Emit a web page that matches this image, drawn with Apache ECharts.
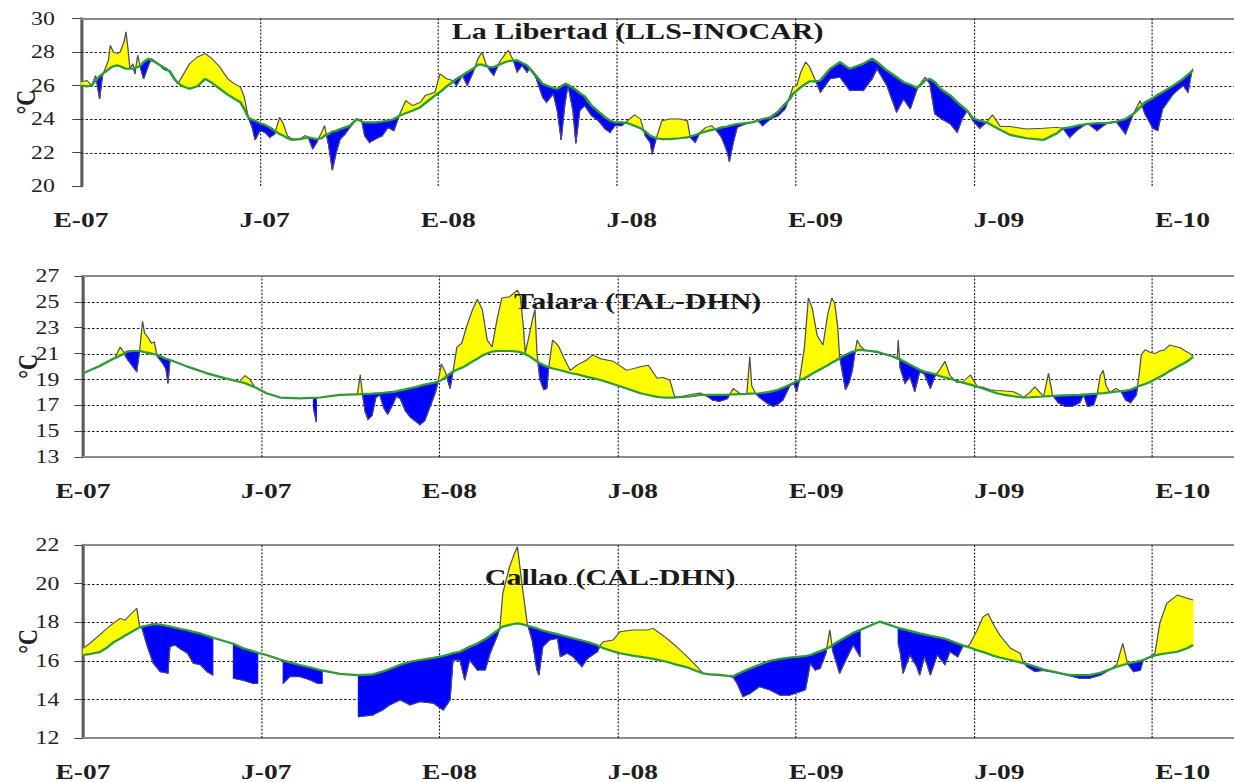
<!DOCTYPE html>
<html>
<head>
<meta charset="utf-8">
<script src="https://cdn.jsdelivr.net/npm/echarts@6/dist/echarts.min.js"></script>
<style>
  html, body { margin: 0; padding: 0; background: #ffffff; overflow: hidden; }
  /* the figure is laid out narrow and widened horizontally, like the printed original */
  #chart { width: 987px; height: 782px; transform: scaleX(1.25026); transform-origin: 0 0; }
</style>
</head>
<body>
<div id="chart"></div>
<script>
// x values are days counted from 1 January 2007
const xTickLabels = ['E-07', 'J-07', 'E-08', 'J-08', 'E-09', 'J-09', 'E-10'];
const DAY_MAX = 1179;
const HALF_YEAR = 182.5;

// ---- La Libertad (LLS-INOCAR): daily SST and its reference curve (°C)
const llDay = [
  0,6,11,15,19,22,28,30,33,37, 40,44,46,48,50,53,55,58,61,64,
  69,72,77,84,87,91,96,99,104,111, 119,127,134,142,150,157,163,167,171,175,
  178,183,188,193,198,203,207,211,216,224, 229,232,237,241,246,249,253,257,261,265,
  270,275,282,287,290,295,301,308,314,320, 326,332,339,347,352,362,367,374,380,384,
  390,395,401,406,410,414,418,422,428,434, 437,442,446,451,456,459,465,472,476,483,
  487,491,495,498,503,506,510,515,522,529, 536,541,546,553,559,566,572,577,582,584,
  588,594,602,612,620,623,628,633,639,645, 650,655,661,663,667,671,679,686,692,697,
  705,713,720,725,728,732,736,741,745,751, 756,766,776,786,800,809,814,824,834,841,
  848,855,863,868,873,880,889,896,901,906, 912,919,926,932,940,950,967,984,998,1004,
  1011,1018,1029,1039,1049,1059,1068,1076,1083,1088, 1096,1101,1106,1117,1127,1132,1136,1137
];
const llSst = [
  26.2,26.3,26.0,26.6,25.2,26.6,27.5,28.4,28.0,27.9, 28.0,28.6,29.2,28.2,27.0,27.3,26.7,27.8,27.0,26.4,
  27.2,27.6,27.4,27.0,26.9,26.9,26.4,26.1,26.6,27.3, 27.7,27.9,27.6,27.1,26.4,26.1,25.9,25.3,24.1,23.5,
  22.75,23.3,23.2,22.9,23.1,24.1,23.7,23.0,22.8,22.8, 23.0,22.95,22.2,22.6,23.2,23.6,22.5,20.95,22.0,22.8,
  23.1,23.5,24.0,23.9,23.0,22.6,22.8,23.0,23.5,23.3, 24.3,25.1,24.8,25.0,25.4,25.6,26.7,26.4,26.3,26.0,
  26.6,26.0,26.8,27.6,28.0,27.3,26.9,26.6,27.4,27.9, 28.1,27.5,26.8,27.2,26.8,27.0,26.5,25.3,25.0,25.5,
  24.5,22.75,25.0,26.0,24.5,22.55,24.5,24.8,24.2,23.9, 23.4,23.2,23.6,23.6,23.9,24.25,24.0,23.0,22.6,21.9,
  22.8,23.9,24.0,24.0,23.9,22.9,22.6,23.2,23.5,23.6, 23.3,22.9,22.0,21.45,22.6,23.5,23.7,23.8,23.9,23.6,
  24.0,24.2,24.6,25.4,25.9,26.0,26.8,27.4,27.1,26.3, 25.6,26.4,26.5,25.7,25.7,26.4,27.0,26.0,24.4,25.2,
  24.6,25.8,26.5,26.1,24.3,24.0,23.7,23.2,24.0,24.5, 23.9,23.45,23.8,24.25,23.55,23.55,23.4,23.45,23.5,23.45,
  22.9,23.3,23.75,23.3,23.75,23.8,23.1,24.3,25.1,24.3, 23.45,23.3,24.6,25.5,26.0,25.6,26.9,27.0
];
const llClim = [
  26.0,25.95,26.0,26.3,26.55,26.7,26.95,27.05,27.15,27.2, 27.15,27.05,27.0,27.0,27.0,27.0,27.05,27.1,27.2,27.4,
  27.6,27.5,27.35,27.1,27.0,26.8,26.35,26.15,25.95,25.8, 25.95,26.4,26.15,25.8,25.45,25.2,25.0,24.6,24.1,23.95,
  23.9,23.75,23.65,23.5,23.3,23.1,23.0,22.85,22.75,22.8, 22.85,22.9,22.85,22.8,22.85,23.0,23.1,23.25,23.3,23.4,
  23.5,23.6,24.0,23.85,23.8,23.8,23.8,23.85,23.9,24.0, 24.2,24.35,24.5,24.7,24.95,25.4,25.6,25.95,26.2,26.4,
  26.6,26.8,27.0,27.25,27.25,27.15,27.1,27.1,27.25,27.4, 27.45,27.5,27.5,27.35,27.2,27.0,26.6,26.1,26.0,25.85,
  25.8,25.95,26.1,26.05,25.85,25.75,25.55,25.35,24.8,24.45, 24.1,23.9,23.8,23.8,23.75,23.6,23.45,23.25,23.0,22.95,
  22.85,22.8,22.8,22.85,22.9,22.95,23.05,23.15,23.25,23.35, 23.4,23.5,23.55,23.6,23.65,23.7,23.75,23.8,23.9,24.0,
  24.1,24.45,24.9,25.2,25.5,25.7,25.9,26.1,26.25,26.25, 26.3,27.0,27.4,27.0,27.3,27.6,27.4,26.9,26.5,26.2,
  26.05,25.85,26.3,26.4,26.2,25.75,25.4,25.0,24.75,24.5, 24.05,23.9,23.8,23.6,23.35,23.05,22.85,22.75,23.15,23.45,
  23.5,23.6,23.7,23.75,23.75,23.85,24.0,24.3,24.7,25.0, 25.25,25.45,25.6,26.0,26.4,26.65,26.85,26.9
];

// ---- Talara (TAL-DHN): null marks days without record
const talDay = [
  0,17,31,33,38,41,45,51,55,58, 61,63,67,70,73,76,79,82,85,87,
  89,90,107,127,145,160,161,166,171,176, 177,188,202,222,234,236,239,243,263,280,
  281,284,286,289,292,296,300,304,308,312, 317,321,325,330,335,340,345,350,355,361,
  364,367,371,376,379,383,388,393,399,404, 409,414,419,424,429,437,445,448,451,453,
  456,461,463,465,468,472,475,477,481,487, 492,499,506,516,522,530,543,557,571,579,
  588,594,601,606,615,624,632,639,645,652, 660,666,673,680,683,685,689,693,700,707,
  712,717,724,728,731,734,739,743,747,752, 758,763,767,770,773,775,778,781,785,788,
  791,793,796,801,806,813,821,829,834,835, 837,842,847,852,857,862,868,873,878,883,
  888,895,901,909,916,922,929,936,944,953, 960,963,970,975,980,984,989,993,999,1006,
  1013,1021,1025,1029,1035,1039,1042,1045,1048,1052, 1058,1063,1068,1073,1079,1082,1084,1088,1093,1098,
  1103,1108,1113,1119,1124,1129,1134,1137
];
const talSst = [
  null,null,null,20.7,21.5,21.2,20.6,20.0,19.6,21.2, 23.5,22.6,22.2,21.8,21.9,20.8,20.5,20.2,19.8,18.7,
  20.4,null,null,null,null,null,18.9,19.3,19.0,18.4, null,null,null,null,null,16.8,15.7,null,null,null,
  17.85,19.35,18.0,16.5,15.9,16.2,17.6,17.8,16.8,16.3, 17.0,17.7,17.5,16.6,16.1,15.8,15.5,15.8,16.8,18.0,
  18.9,20.2,19.6,18.3,19.6,21.5,21.8,23.1,24.4,25.2, 24.4,22.05,21.5,23.6,25.3,25.4,25.9,25.4,23.1,21.05,
  22.05,23.85,24.4,21.0,19.0,18.2,18.3,19.9,22.05,21.6, 20.76,19.7,20.1,20.5,20.9,20.6,20.4,19.7,19.98,20.1,
  19.1,19.15,18.96,17.67,17.7,17.85,17.95,17.7,17.4,17.3, 17.5,18.3,17.9,17.9,20.76,18.5,17.9,17.6,17.2,16.9,
  17.1,17.4,18.5,18.7,18.05,19.0,21.5,25.3,24.5,22.4, 21.66,24.1,25.3,24.9,23.1,20.76,19.5,18.2,18.8,19.7,
  21.2,22.05,21.6,21.25,21.2,21.1,21.0,20.8,20.6,22.05, 19.9,18.7,19.2,18.05,19.6,19.4,18.3,19.3,19.8,20.4,
  19.3,18.8,18.8,19.34,18.45,18.4,18.2,18.15,18.1,18.05, 17.8,17.6,18.0,18.44,18.0,17.7,19.47,17.8,17.2,16.9,
  16.9,17.2,17.8,16.9,17.0,17.9,19.3,19.7,18.5,17.99, 18.3,18.1,17.4,17.2,17.8,19.5,20.9,21.3,21.1,21.0,
  21.2,21.3,21.66,21.55,21.45,21.2,21.0,20.8
];
const talClim = [
  19.47,20.04,20.6,20.65,20.85,20.95,21.15,21.2,21.2,21.2, 21.15,21.1,21.05,21.0,20.95,20.9,20.8,20.7,20.6,20.55,
  20.5,20.48,19.99,19.47,19.1,18.82,18.8,18.7,18.55,18.4, 18.37,17.93,17.6,17.54,17.58,17.58,17.58,17.6,17.8,17.85,
  17.85,17.86,17.87,17.88,17.89,17.9,17.92,17.94,17.97,18.0, 18.03,18.08,18.15,18.23,18.32,18.4,18.5,18.6,18.68,18.77,
  18.83,18.95,19.15,19.45,19.6,19.75,19.9,20.1,20.4,20.6, 20.85,21.0,21.15,21.2,21.2,21.2,21.15,21.1,21.0,20.95,
  20.85,20.6,20.5,20.4,20.25,20.1,20.0,19.95,19.85,19.75, 19.65,19.5,19.4,19.2,19.1,18.96,18.65,18.3,17.93,17.8,
  17.65,17.6,17.6,17.6,17.65,17.7,17.8,17.8,17.8,17.8, 17.82,17.84,17.87,17.89,17.9,17.9,17.91,17.93,18.0,18.1,
  18.2,18.35,18.6,18.75,18.85,18.95,19.1,19.25,19.45,19.65, 19.9,20.1,20.3,20.4,20.55,20.65,20.8,20.9,21.05,21.15,
  21.2,21.25,21.28,21.25,21.2,21.15,20.95,20.8,20.64,20.6, 20.55,20.35,20.15,19.95,19.75,19.6,19.5,19.4,19.25,19.15,
  19.05,18.9,18.75,18.6,18.44,18.3,18.1,17.93,17.8,17.7, 17.62,17.6,17.62,17.64,17.66,17.68,17.71,17.72,17.74,17.76,
  17.78,17.81,17.83,17.85,17.88,17.9,17.92,17.93,17.96,18.0, 18.05,18.1,18.14,18.2,18.4,18.5,18.55,18.65,18.8,19.0,
  19.2,19.4,19.65,19.9,20.1,20.3,20.55,20.76
];

// ---- Callao (CAL-DHN)
const calDay = [
  0,7,17,25,31,38,43,48,55,58, 60,66,72,79,87,89,94,100,107,113,
  120,127,133,134,147,153,154,164,174,179, 180,188,204,205,212,222,233,240,245,246,
  263,281,282,297,307,314,325,335,345,359, 369,376,379,386,391,396,404,412,417,424,
  427,430,437,442,445,450,455,460,465,467, 471,478,486,489,496,502,511,517,527,530,
  533,543,550,563,578,584,591,598,608,619, 629,635,642,652,661,666,670,676,683,693,
  704,714,724,734,740,745,750,755,761,765, 768,775,783,789,796,797,816,834,835,837,
  840,847,854,857,862,868,875,883,888,896, 901,906,909,916,922,927,932,939,950,960,
  963,967,975,983,990,1004,1011,1021,1031,1042, 1052,1059,1065,1070,1076,1083,1086,1093,1098,1103,
  1110,1121,1131,1137
];
const calSst = [
  16.65,16.9,17.34,17.7,17.94,18.2,18.1,18.37,18.72,17.77, 17.75,16.73,15.87,15.44,15.35,16.73,16.82,16.6,16.39,15.87,
  15.8,15.44,15.26,null,null,null,15.09,14.99,14.83,14.83, null,null,null,14.83,15.18,15.18,15.0,14.83,14.83,null,
  null,null,13.1,13.19,13.45,13.71,13.97,13.71,13.88,13.8, 13.45,13.97,16.04,16.04,15.0,16.04,15.52,15.52,16.39,17.25,
  17.68,19.5,20.88,21.57,21.91,19.84,17.94,17.08,15.52,15.26, 16.73,17.08,17.16,16.21,16.39,16.21,15.69,16.13,16.47,16.82,
  16.99,17.08,17.51,17.6,17.6,17.68,17.42,17.16,16.73,16.21, 15.69,15.35,15.3,15.3,15.2,15.15,14.83,14.14,14.3,14.66,
  14.48,14.22,14.22,14.39,14.5,15.87,15.52,15.6,16.4,17.6, 16.5,15.35,16.21,16.82,16.21,null,null,null,16.9,16.47,
  15.35,16.3,15.7,15.26,16.21,15.26,16.3,15.8,16.47,16.2, 16.73,16.73,16.91,17.6,18.28,18.45,17.94,17.34,16.65,16.39,
  15.95,15.7,15.44,15.5,15.45,15.3,15.22,15.09,15.09,15.25, 15.55,15.8,16.91,15.85,15.44,15.5,16.04,16.2,16.39,17.94,
  18.98,19.41,19.24,19.15
];
const calClim = [
  16.3,16.35,16.45,16.7,16.95,17.15,17.3,17.45,17.65,17.73, 17.77,17.83,17.9,17.88,17.8,17.78,17.72,17.65,17.58,17.5,
  17.42,17.3,17.2,17.18,16.99,16.9,16.88,16.65,16.5,16.42, 16.4,16.3,16.03,16.02,15.92,15.78,15.65,15.56,15.5,15.49,
  15.32,15.26,15.26,15.3,15.45,15.58,15.8,15.95,16.04,16.15, 16.25,16.35,16.4,16.47,16.6,16.73,16.9,17.12,17.3,17.55,
  17.68,17.77,17.86,17.92,17.94,17.9,17.82,17.75,17.68,17.64, 17.57,17.47,17.38,17.34,17.25,17.17,17.05,16.97,16.8,16.72,
  16.65,16.49,16.39,16.27,16.15,16.1,16.02,15.95,15.8,15.66, 15.46,15.35,15.3,15.26,15.22,15.2,15.3,15.45,15.6,15.8,
  16.0,16.1,16.17,16.22,16.25,16.3,16.4,16.5,16.62,16.7, 16.82,17.05,17.28,17.45,17.6,17.62,18.03,17.72,17.7,17.68,
  17.64,17.55,17.46,17.42,17.37,17.3,17.23,17.14,17.05,16.9, 16.8,16.73,16.68,16.55,16.45,16.36,16.27,16.17,16.04,15.92,
  15.88,15.83,15.7,15.56,15.48,15.33,15.26,15.26,15.26,15.38, 15.56,15.69,15.78,15.85,15.92,16.0,16.04,16.2,16.28,16.33,
  16.39,16.47,16.65,16.82
];

const WARM = '#ffff00';
const COLD = '#0000ff';

// panel layout (px inside the chart box)
const panels = [
  { title: 'La Libertad (LLS-INOCAR)', day: llDay, sst: llSst, clim: llClim,
    yMin: 20, yMax: 30, left: 64.8, top: 18.5, height: 167.5, frameBottom: false,
    labelPad: 19, dateMargin: 22, titleX: 510, titleY: 31 },
  { title: 'Talara (TAL-DHN)', day: talDay, sst: talSst, clim: talClim,
    yMin: 13, yMax: 27, left: 66.4, top: 276, height: 181, frameBottom: true,
    labelPad: 17, dateMargin: 22, titleX: 510, titleY: 301 },
  { title: 'Callao (CAL-DHN)', day: calDay, sst: calSst, clim: calClim,
    yMin: 12, yMax: 22, left: 66.4, top: 545, height: 193, frameBottom: true,
    labelPad: 17, dateMargin: 22, titleX: 488, titleY: 577 }
];

const serif = '"Liberation Serif", "Times New Roman", serif';

// dotted reference grid: temperature levels and half-year marks
function gridLineSeries(p, idx) {
  const data = [];
  for (let v = p.yMin + 2; v < p.yMax; v += 2) data.push([0, v, DAY_MAX, v]);
  for (let d = HALF_YEAR; d < DAY_MAX; d += HALF_YEAR) data.push([d, p.yMin, d, p.yMax]);
  return {
    type: 'custom', xAxisIndex: idx * 3, yAxisIndex: idx, silent: true, z: 1, clip: false,
    encode: { x: [0, 2], y: [1, 3] },
    data: data,
    renderItem: function (params, api) {
      const a = api.coord([api.value(0), api.value(1)]);
      const b = api.coord([api.value(2), api.value(3)]);
      const horizontal = Math.abs(a[1] - b[1]) < 0.5;
      let x1 = a[0], y1 = a[1], x2 = b[0], y2 = b[1];
      if (horizontal) { y1 = y2 = Math.round(a[1]) + 0.5; }
      else { x1 = x2 = Math.round(a[0]) + 0.5; }
      return {
        type: 'line', shape: { x1: x1, y1: y1, x2: x2, y2: y2 },
        style: { stroke: '#1c1c1c', lineWidth: horizontal ? 1 : 0.9, lineDash: [2, 1.6] }
      };
    }
  };
}

// anomaly fill: one polygon per interval, split where the record crosses the reference curve
function anomalySeries(p, idx) {
  const data = [];
  for (let k = 0; k + 1 < p.day.length; k++) {
    if (p.sst[k] == null || p.sst[k + 1] == null) continue;
    data.push([p.day[k], p.sst[k], p.clim[k], p.day[k + 1], p.sst[k + 1], p.clim[k + 1]]);
  }
  return {
    type: 'custom', xAxisIndex: idx * 3, yAxisIndex: idx, silent: true, z: 2, clip: true,
    encode: { x: [0, 3], y: [1, 2, 4, 5] },
    data: data,
    renderItem: function (params, api) {
      const d0 = api.value(0), t0 = api.value(1), c0 = api.value(2);
      const d1 = api.value(3), t1 = api.value(4), c1 = api.value(5);
      const a = t0 - c0, b = t1 - c1;
      const P = (d, v) => api.coord([d, v]);
      const poly = (pts, warm) => ({
        type: 'polygon', shape: { points: pts },
        style: { fill: warm ? WARM : COLD, stroke: warm ? WARM : COLD, lineWidth: 0.8 }
      });
      const kids = [];
      if ((a >= 0) === (b >= 0)) {
        kids.push(poly([P(d0, t0), P(d1, t1), P(d1, c1), P(d0, c0)], a + b >= 0));
      } else {
        const f = a / (a - b);
        const dx = d0 + f * (d1 - d0), cx = c0 + f * (c1 - c0);
        kids.push(poly([P(d0, t0), P(dx, cx), P(d0, c0)], a >= 0));
        kids.push(poly([P(dx, cx), P(d1, t1), P(d1, c1)], b >= 0));
      }
      return { type: 'group', children: kids };
    }
  };
}

const grid = [], xAxis = [], yAxis = [], series = [], graphic = [];
panels.forEach((p, i) => {
  grid.push({ show: false, left: p.left, right: 0, top: p.top, height: p.height,
              containLabel: false, outerBoundsMode: 'none' });

  // day axis (bottom frame on the lower panels)
  xAxis.push({
    gridIndex: i, type: 'value', position: 'bottom', min: 0, max: DAY_MAX, interval: HALF_YEAR,
    axisLabel: { show: false }, axisTick: { show: false },
    axisLine: { show: p.frameBottom, onZero: false, lineStyle: { color: '#8c8c8c', width: 2 } },
    splitLine: { show: false }
  });
  // month labels
  xAxis.push({
    gridIndex: i, type: 'value', position: 'bottom', min: 0, max: 6.28, interval: 1,
    axisLine: { show: false }, axisTick: { show: false }, splitLine: { show: false },
    axisLabel: {
      margin: p.dateMargin, fontFamily: serif, fontWeight: 'bold', fontSize: 22, color: '#1e1e1e',
      showMaxLabel: false,
      formatter: v => (Number.isInteger(v) && xTickLabels[v]) ? xTickLabels[v] : ''
    }
  });
  // top frame line
  xAxis.push({
    gridIndex: i, type: 'value', position: 'top', min: 0, max: 1,
    axisLine: { show: true, onZero: false, lineStyle: { color: '#8c8c8c', width: 2 } },
    axisTick: { show: false }, axisLabel: { show: false }, splitLine: { show: false }
  });

  yAxis.push({
    gridIndex: i, type: 'value', min: p.yMin, max: p.yMax, interval: 2,
    name: '°C', nameLocation: 'middle', nameRotate: 90, nameGap: 33, nameMoveOverlap: false,
    nameTextStyle: { fontFamily: serif, fontSize: 22, fontWeight: 'bold', color: '#222' },
    axisLine: { show: true, onZero: false, lineStyle: { color: '#5c5c5c', width: 2.5 } },
    axisTick: { show: true, inside: false, length: 7, lineStyle: { color: '#444', width: 1 } },
    axisLabel: { margin: 2, padding: [0, p.labelPad, 0, 0],
                 fontFamily: serif, fontSize: 19, color: '#222' },
    splitLine: { show: false }
  });

  series.push(gridLineSeries(p, i));
  series.push(anomalySeries(p, i));
  series.push({
    type: 'line', xAxisIndex: i * 3, yAxisIndex: i, z: 3, silent: true,
    symbol: 'none', connectNulls: false,
    lineStyle: { color: '#4b4b70', width: 1 },
    data: p.day.map((d, k) => [d, p.sst[k]])
  });
  series.push({
    type: 'line', xAxisIndex: i * 3, yAxisIndex: i, z: 4, silent: true,
    symbol: 'none',
    lineStyle: { color: '#2e9b38', width: 2.2 },
    data: p.day.map((d, k) => [d, p.clim[k]])
  });

  graphic.push({
    type: 'text', x: p.titleX, y: p.titleY, z: 10, silent: true,
    style: {
      text: p.title, font: 'bold 24px ' + serif, fill: '#1a1a1a',
      textAlign: 'center', textVerticalAlign: 'middle', align: 'center', verticalAlign: 'middle'
    }
  });
});

const chart = echarts.init(document.getElementById('chart'), null, { renderer: 'svg' });
chart.setOption({
  animation: false,
  backgroundColor: '#ffffff',
  grid: grid,
  xAxis: xAxis,
  yAxis: yAxis,
  series: series,
  graphic: graphic
});
</script>
</body>
</html>
